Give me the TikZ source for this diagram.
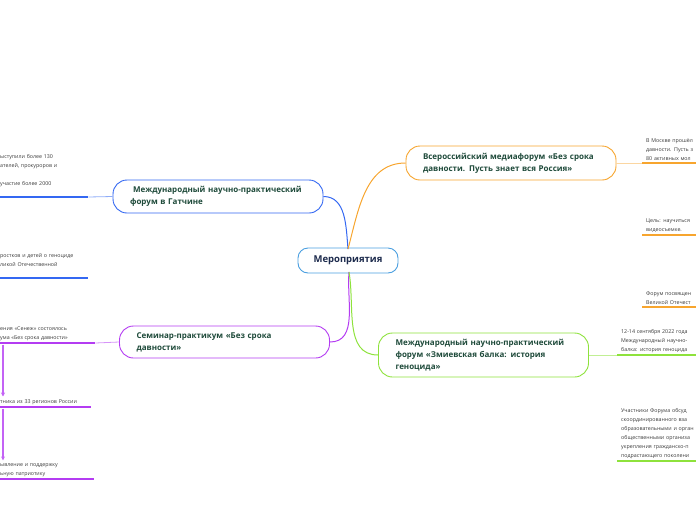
\documentclass[tikz,border=0pt]{standalone}
\usepackage{fontspec}
\setmainfont{Open Sans}
\definecolor{rootblue}{HTML}{4A9FE0}
\definecolor{rootink}{HTML}{1D2B4D}
\definecolor{topicink}{HTML}{1E4A3A}
\definecolor{leafink}{HTML}{3A3A3A}
\definecolor{gatchinablue}{HTML}{3468F2}
\definecolor{mediaorange}{HTML}{F7A52E}
\definecolor{balkagreen}{HTML}{8EE23C}
\definecolor{senezhpurple}{HTML}{B43CF2}
\usetikzlibrary{positioning,arrows.meta}

\begin{document}
\begin{tikzpicture}[
  x=1pt, y=-1pt,
  >=Stealth,
  topic/.style={
    rectangle, rounded corners=14pt, draw, line width=0.9pt, fill=white,
    text=topicink, font=\fontsize{8}{12}\selectfont\bfseries,
    align=left, text width=176pt, inner xsep=17pt, inner ysep=4pt
  },
  leaf/.style={
    anchor=south west, font=\fontsize{5.3}{9}\selectfont, text=leafink,
    align=left, inner xsep=4pt, inner ysep=2.5pt
  },
  branch/.style={line width=1pt},
  underline/.style={line width=1.8pt},
  stem/.style={line width=0.8pt}
]
\useasboundingbox (0,0) rectangle (696,520);
\clip (0,0) rectangle (696,520);

% central topic
\node[rectangle, rounded corners=10pt, draw=rootblue, line width=0.9pt,
  fill=white, text=rootink, font=\fontsize{9.5}{11}\selectfont\bfseries,
  minimum width=100pt, minimum height=25pt] (root) at (348,260.5) {Мероприятия};

% main topics
\node[topic, draw=gatchinablue, minimum height=33pt] (gatchina) at (218,196.5)
  {\hspace{3pt}Международный научно-практический\\форум в Гатчине};
\node[topic, draw=mediaorange, minimum height=34pt] (media) at (511,163)
  {Всероссийский медиафорум «Без срока\\давности. Пусть знает вся Россия»};
\node[topic, draw=balkagreen, minimum height=44pt] (balka) at (483.5,355)
  {Международный научно-практический\\форум «Змиевская балка: история\\геноцида»};
\node[topic, draw=senezhpurple, minimum height=32pt] (senezh) at (224.5,342)
  {Семинар-практикум «Без срока\\давности»};

\coordinate (rootup) at (348,249);
\coordinate (rootdown) at (349,272);

\draw[branch, gatchinablue] (gatchina.east) to[out=0, in=95] (rootup);
\draw[branch, mediaorange] (media.west) to[out=180, in=75] (rootup);
\draw[branch, senezhpurple] (rootdown) to[out=-95, in=0] (senezh.east);
\draw[branch, balkagreen] (rootdown) to[out=-80, in=180] (balka.west);

% left leaves
\node[leaf, text width=84pt] (gatchinaA) at (-4,197)
  {ыступили более 130\\ателей, прокуроров и\\\mbox{}\\участие более 2000\\\mbox{}};
\node[leaf, text width=84pt] (gatchinaB) at (-4,278)
  {ростков и детей о геноциде\\ликой Отечественной\\\mbox{}};
\node[leaf, text width=91pt] (senezhA) at (-4,343)
  {ения «Сенеж» состоялось\\ума «Без срока давности»};
\node[leaf, text width=87pt] (senezhB) at (-4,407)
  {тника из 33 регионов России};
\node[leaf, text width=90pt] (senezhC) at (-4,479)
  {ывление и поддержку\\ьную патриотику};

\foreach \n in {gatchinaA, gatchinaB}
  \draw[underline, gatchinablue] (\n.south west) -- (\n.south east);
\foreach \n in {senezhA, senezhB, senezhC}
  \draw[underline, senezhpurple] (\n.south west) -- (\n.south east);

\draw[stem, gatchinablue!55] (gatchina.west) -- (gatchinaA.south east);
\draw[stem, senezhpurple!55] (senezh.west) -- (senezhA.south east);

\draw[line width=1.2pt, senezhpurple!80, -{Stealth[length=4pt,width=4pt]}, shorten <=1.5pt]
  ([xshift=7pt]senezhA.south west) -- ([xshift=7pt]senezhB.north west);
\draw[line width=1.2pt, senezhpurple!80, -{Stealth[length=4pt,width=4pt]}, shorten <=1.5pt]
  ([xshift=7pt]senezhB.south west) -- ([xshift=7pt]senezhC.north west);

% right leaves
\node[leaf, text width=84pt] (mediaA) at (642,163)
  {В Москве прошёл\\давности. Пусть з\\80 активных мол};
\node[leaf, text width=84pt] (mediaB) at (642,235)
  {Цель: научиться\\видеосъемке.};
\node[leaf, text width=84pt] (mediaC) at (642,307)
  {Форум посвящен\\Великой Отечест};
\node[leaf, text width=90pt] (balkaA) at (617,355)
  {12-14 сентября 2022 года\\Международный научно-\\балка: история геноцида};
\node[leaf, text width=90pt] (balkaB) at (617,461)
  {Участники Форума обсуд\\скоординированного вза\\образовательными и орган\\общественными организа\\укрепления гражданско-п\\подрастающего поколени};

\foreach \n in {mediaA, mediaB, mediaC}
  \draw[underline, mediaorange] (\n.south west) -- (\n.south east);
\foreach \n in {balkaA, balkaB}
  \draw[underline, balkagreen] (\n.south west) -- (\n.south east);

\draw[stem, mediaorange!45] (media.east) -- (mediaA.south west);
\draw[stem, balkagreen!55] (balka.east) -- (balkaA.south west);

\end{tikzpicture}
\end{document}
